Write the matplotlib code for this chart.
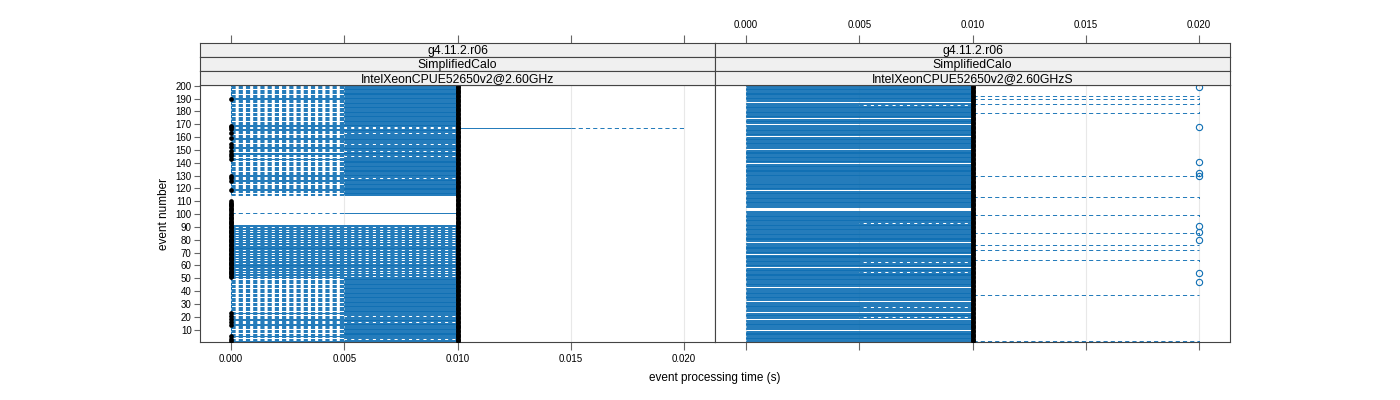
import matplotlib
matplotlib.use("Agg")
import matplotlib.pyplot as plt
from matplotlib.patches import Rectangle

plt.rcParams["font.family"] = ["Liberation Sans", "DejaVu Sans"]
plt.rcParams["lines.scale_dashes"] = False

# ---- data -------------------------------------------------------------
events = list(range(1, 201))
x_ticks = [0.000, 0.005, 0.010, 0.015, 0.020]
y_ticks = [10, 20, 30, 40, 50, 60, 70, 80, 90, 100,
           110, 120, 130, 140, 150, 160, 170, 180, 190, 200]

strip_left = ["g4.11.2.r06", "SimplifiedCalo", "IntelXeonCPUE52650v2@2.60GHz"]
strip_right = ["g4.11.2.r06", "SimplifiedCalo", "IntelXeonCPUE52650v2@2.60GHzS"]

# per event type: (whisker low, lower hinge, upper hinge, whisker high)
box_types = {
    "upper": (0.0, 0.005, 0.010, 0.010),
    "full0": (0.0, 0.0, 0.010, 0.010),
    "flat0": (0.0, 0.0, 0.0, 0.010),
    "zero": (0.0, 0.0, 0.0, 0.0),
    "one": (0.010, 0.010, 0.010, 0.010),
    "ext": (0.0, 0.010, 0.015, 0.020),
    "wide": (0.0, 0.0, 0.010, 0.010),
    "half": (0.0, 0.0, 0.005, 0.010),
    "tail": (0.0, 0.0, 0.010, 0.020),
}

# left panel (default type "upper")
left_full0 = [190, 169, 166, 159, 152, 147, 143, 130, 126, 119,
              91, 89, 87, 85, 83, 81, 79, 77, 75, 73, 71, 69, 67, 65, 63,
              61, 59, 57, 55, 53, 51, 23, 18, 14, 5, 1]
left_flat0 = [168, 163, 155, 149, 145, 128,
              90, 88, 86, 84, 82, 80, 78, 76, 74, 72, 70, 68, 66, 64, 62,
              60, 58, 56, 54, 52, 21, 16, 3]
left_zero = [92, 93, 94, 95, 96, 97, 98, 99, 100,
             102, 103, 104, 105, 106, 107, 108, 109, 110]
left_one = [111, 112, 113, 114]
left_ext = [167]
left_low_median = left_full0 + left_flat0 + left_zero   # black dot at 0

# right panel (default type "wide")
right_tail = [192, 190, 186, 179, 130, 113, 99, 85, 76, 72, 64, 37, 1]
right_half = [185, 93, 63, 55, 28, 20]
right_one = [187, 175, 170, 161, 151, 140, 127, 119, 105, 104, 103,
             78, 69, 59, 43, 32, 24, 18, 10]
right_out_events = [199, 168, 141, 132, 130, 91, 86, 80, 54, 47]
right_out_time = [0.020, 0.020, 0.020, 0.020, 0.020,
                  0.020, 0.020, 0.020, 0.020, 0.020]

median_time = 0.010   # black median marks for every event

BLUE = "#0f6fb4"
LW = 0.65
W = 1400
H = 400


def fx(px):
    return px / W


def fy(py):
    return 1 - py / H


def event_type(ev, default, groups):
    for name, lst in groups:
        if ev in lst:
            return name
    return default


def draw_panel(ax, default, groups, low_median):
    for xt in x_ticks:
        ax.axvline(xt, color="#e8e8e8", lw=0.8, zorder=0)
    for ev in events:
        lo, q1, q3, hi = box_types[event_type(ev, default, groups)]
        h = 0.25
        if q3 > q1:
            ax.add_patch(Rectangle((q1, ev - h), q3 - q1, 2 * h, fill=False,
                                   edgecolor=BLUE, lw=LW, zorder=2))
        if q1 > lo:
            ax.plot([lo, q1], [ev, ev], color=BLUE, lw=LW,
                    ls=(0, (3, 2.2)), zorder=2)
            ax.plot([lo, lo], [ev - h, ev + h], color=BLUE, lw=LW, zorder=2)
        if hi > q3:
            ax.plot([q3, hi], [ev, ev], color=BLUE, lw=LW,
                    ls=(0, (3, 2.2)), zorder=2)
            ax.plot([hi, hi], [ev - h, ev + h], color=BLUE, lw=LW, zorder=2)
    ax.plot([median_time] * len(events), events, "o", color="black",
            ms=3.4, mew=0, zorder=4)
    if low_median:
        ax.plot([0.0] * len(low_median), low_median, "o", color="black",
                ms=3.4, mew=0, zorder=4)


fig = plt.figure(figsize=(14, 4), dpi=100)

panel_x = [(200, 715), (715, 1230)]
strips = [strip_left, strip_right]
xlim = (-0.00137, 0.02137)

axes = []
for i, (x0, x1) in enumerate(panel_x):
    ax = fig.add_axes([fx(x0), fy(342), fx(x1 - x0), fy(85) - fy(342)])
    ax.set_xlim(*xlim)
    ax.set_ylim(0.4, 200.6)
    ax.set_xticks(x_ticks)
    ax.tick_params(axis="x", length=6, color="#666666", labelsize=7, pad=3)
    if i == 0:
        ax.set_xticklabels([f"{t:.3f}" for t in x_ticks])
        ax.set_yticks(y_ticks)
        ax.set_yticklabels([str(t) for t in y_ticks])
        ax.tick_params(axis="y", length=4, color="#666666", labelsize=7, pad=2)
        ax.set_ylabel("event number", fontsize=8.5, labelpad=4)
    else:
        ax.set_xticklabels([])
        ax.set_yticks([])
    for s in ax.spines.values():
        s.set_color("#444444")
        s.set_linewidth(0.8)
    axes.append(ax)

    # strips
    for k, label in enumerate(strips[i]):
        top = 43 + 14 * k
        sax = fig.add_axes([fx(x0), fy(top + 14), fx(x1 - x0), 14 / H])
        sax.set_facecolor("#f0f0f0")
        sax.set_xlim(*xlim)
        sax.set_yticks([])
        for s in sax.spines.values():
            s.set_color("#444444")
            s.set_linewidth(0.8)
        sax.text(0.5, 0.45, label, transform=sax.transAxes, ha="center",
                 va="center", fontsize=8.8)
        if k == 0:
            sax.xaxis.tick_top()
            sax.set_xticks(x_ticks)
            sax.tick_params(axis="x", length=6, color="#666666",
                            labelsize=7, pad=3)
            if i == 1:
                sax.set_xticklabels([f"{t:.3f}" for t in x_ticks])
            else:
                sax.set_xticklabels([])
        else:
            sax.set_xticks([])

draw_panel(axes[0], "upper",
           [("ext", left_ext), ("one", left_one), ("zero", left_zero),
            ("full0", left_full0), ("flat0", left_flat0)],
           left_low_median)
draw_panel(axes[1], "wide",
           [("tail", right_tail), ("half", right_half), ("one", right_one)],
           [])
axes[1].plot(right_out_time, right_out_events, "o", mfc="none", mec=BLUE,
             ms=4.5, mew=0.8, zorder=3)

fig.text(fx(715), fy(378), "event processing time (s)", ha="center",
         va="center", fontsize=8.5)

fig.savefig("out.png", dpi=100)
